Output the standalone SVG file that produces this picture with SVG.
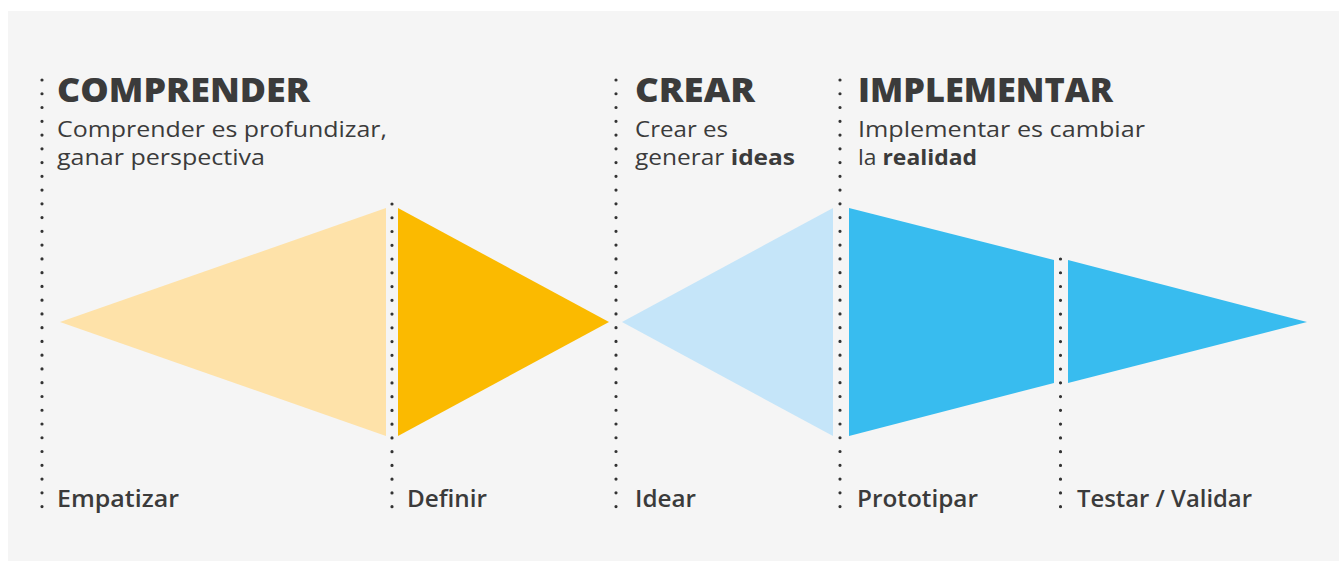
<svg xmlns="http://www.w3.org/2000/svg" width="1339" height="562" viewBox="0 0 1339 562">
<style>
.t{font-family:"Open Sans","Liberation Sans",sans-serif;fill:#3b3b3b}
.h{font-size:33px;font-weight:800}
.s{font-size:21.5px;font-weight:400}
.b{font-weight:700}
.l{font-size:22.5px;font-weight:600}
.dots{stroke:#333;stroke-width:3.2;stroke-linecap:round;stroke-dasharray:0 13.76;fill:none}
</style>
<rect x="8" y="11" width="1331" height="550" fill="#f5f5f5"/>
<g id="dividers">
<line class="dots" x1="42" y1="80" x2="42" y2="508"/>
<line class="dots" x1="392" y1="204" x2="392" y2="508"/>
<line class="dots" x1="616" y1="80" x2="616" y2="508"/>
<line class="dots" x1="840" y1="80" x2="840" y2="508"/>
<line class="dots" x1="1060.5" y1="259" x2="1060.5" y2="508"/>
</g>
<g id="comprender">
<text class="t h" x="57" y="102" textLength="253" lengthAdjust="spacingAndGlyphs">COMPRENDER</text>
<text class="t s" x="57" y="137" textLength="330" lengthAdjust="spacingAndGlyphs">Comprender es profundizar,</text>
<text class="t s" x="57" y="164.5" textLength="208" lengthAdjust="spacingAndGlyphs">ganar perspectiva</text>
</g>
<g id="crear">
<text class="t h" x="635" y="102" textLength="120" lengthAdjust="spacingAndGlyphs">CREAR</text>
<text class="t s" x="635" y="137" textLength="93" lengthAdjust="spacingAndGlyphs">Crear es</text>
<text class="t s" x="635" y="164.5" textLength="160" lengthAdjust="spacingAndGlyphs">generar <tspan class="b">ideas</tspan></text>
</g>
<g id="implementar">
<text class="t h" x="858" y="102" textLength="255" lengthAdjust="spacingAndGlyphs">IMPLEMENTAR</text>
<text class="t s" x="858" y="137" textLength="287" lengthAdjust="spacingAndGlyphs">Implementar es cambiar</text>
<text class="t s" x="858" y="164.5" textLength="119" lengthAdjust="spacingAndGlyphs">la <tspan class="b">realidad</tspan></text>
</g>
<g id="empatizar">
<polygon points="60,322 386,208 386,436" fill="#fee2a9"/>
<text class="t l" x="57" y="507" textLength="122" lengthAdjust="spacingAndGlyphs">Empatizar</text>
</g>
<g id="definir">
<polygon points="398,208 609,322 398,436" fill="#fbba00"/>
<text class="t l" x="407" y="507" textLength="80" lengthAdjust="spacingAndGlyphs">Definir</text>
</g>
<g id="idear">
<polygon points="622,322 833,208 833,436" fill="#c5e5f9"/>
<text class="t l" x="635" y="507" textLength="61" lengthAdjust="spacingAndGlyphs">Idear</text>
</g>
<g id="prototipar">
<polygon points="849,208 1054,260 1054,383 849,436" fill="#38bcef"/>
<text class="t l" x="857" y="507" textLength="121" lengthAdjust="spacingAndGlyphs">Prototipar</text>
</g>
<g id="testar">
<polygon points="1068,260 1307,322 1068,383" fill="#38bcef"/>
<text class="t l" x="1077" y="507" textLength="175" lengthAdjust="spacingAndGlyphs">Testar / Validar</text>
</g>
</svg>
